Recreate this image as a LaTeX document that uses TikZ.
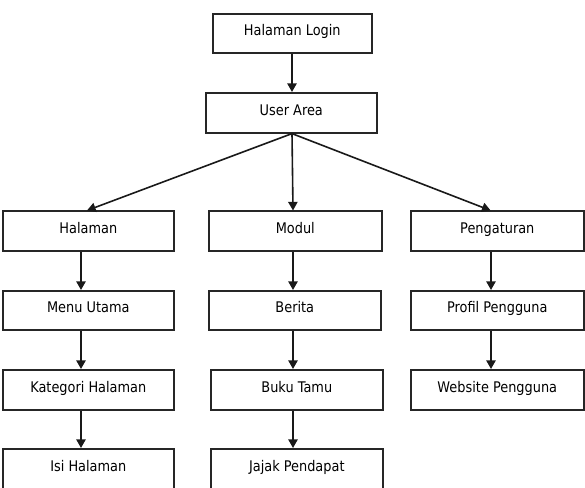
\documentclass[tikz,border=0pt]{standalone}
\usepackage{fontspec}
\setmainfont[FakeStretch=0.88]{DejaVu Sans}
\usetikzlibrary{arrows.meta}
\begin{document}
\begin{tikzpicture}[x=0.75pt,y=-0.75pt,
  box/.style={draw=black!85,line width=1.2pt,rectangle,inner sep=0pt,anchor=north west,font=\fontsize{11pt}{12pt}\selectfont,text=black,text height=8pt,text depth=4pt},
  arr/.style={line width=1.2pt,draw=black!90,-{Triangle[length=6.5pt,width=7pt]}}]
\useasboundingbox (0,0) rectangle (585,488);
\fill[white] (0,0) rectangle (585,488);
\coordinate (cT) at (292,0);
\coordinate (cL) at (81,0);
\coordinate (cM) at (293,0);
\coordinate (cR) at (491,0);
\node[box,minimum width=119.25pt,minimum height=29.25pt] (login) at (212,13) {Halaman Login};
\node[box,minimum width=128.25pt,minimum height=30pt] (user) at (205,92) {User Area};
% row 1
\node[box,minimum width=128.25pt,minimum height=30pt] (hal) at (2,210.5) {Halaman};
\node[box,minimum width=129.75pt,minimum height=30pt] (mod) at (208,210.5) {Modul};
\node[box,minimum width=129.75pt,minimum height=30pt] (peng) at (410,210.5) {Pengaturan};
% row 2
\node[box,minimum width=128.25pt,minimum height=29.25pt] (menu) at (2,290) {Menu Utama};
\node[box,minimum width=129pt,minimum height=29.25pt] (berita) at (208,290) {Berita};
\node[box,minimum width=129.75pt,minimum height=29.25pt] (profil) at (410,290) {Profil Pengguna};
% row 3
\node[box,minimum width=128.25pt,minimum height=30pt] (kat) at (2,369) {Kategori Halaman};
\node[box,minimum width=129pt,minimum height=30pt] (buku) at (210,369) {Buku Tamu};
\node[box,minimum width=129.75pt,minimum height=30pt] (web) at (410,369) {Website Pengguna};
% row 4
\node[box,minimum width=128.25pt,minimum height=30pt] (isi) at (2,448) {Isi Halaman};
\node[box,minimum width=129pt,minimum height=30pt] (jajak) at (210,448) {Jajak Pendapat};
% arrows
\draw[arr] (login.south -| cT) -- (user.north -| cT);
\draw[arr] (user.south -| cT) -- ([xshift=-1pt]hal.north);
\draw[arr] (user.south -| cT) -- (mod.north -| cM);
\draw[arr] (user.south -| cT) -- ([xshift=-5pt]peng.north);
\draw[arr] (hal.south -| cL) -- (menu.north -| cL);
\draw[arr] (menu.south -| cL) -- (kat.north -| cL);
\draw[arr] (kat.south -| cL) -- (isi.north -| cL);
\draw[arr] (mod.south -| cM) -- (berita.north -| cM);
\draw[arr] (berita.south -| cM) -- (buku.north -| cM);
\draw[arr] (buku.south -| cM) -- (jajak.north -| cM);
\draw[arr] (peng.south -| cR) -- (profil.north -| cR);
\draw[arr] (profil.south -| cR) -- (web.north -| cR);
\end{tikzpicture}
\end{document}
